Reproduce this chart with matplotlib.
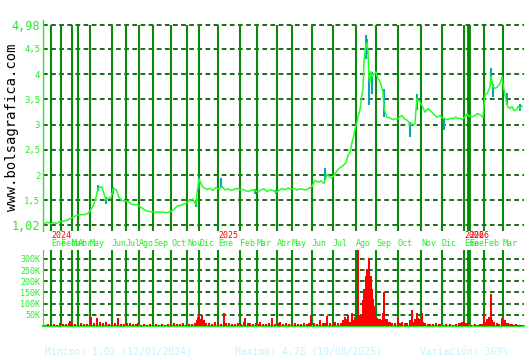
import numpy as np
import matplotlib.pyplot as plt
from matplotlib.transforms import blended_transform_factory

# session counter (one per trading session shown) and closing price
price_day = [45, 48, 51, 54, 57, 60, 63, 66, 70, 73, 77, 81, 85, 88, 90, 93, 96, 98, 100, 102,
             103, 105, 106, 108, 111, 113, 116, 118, 119, 121, 123, 127, 130, 132, 137, 140, 142, 145, 147, 150,
             153, 158, 163, 167, 170, 174, 177, 180, 183, 187, 190, 193, 195, 196, 197, 199, 200, 202, 204, 207,
             210, 213, 216, 219, 222, 225, 228, 231, 234, 237, 240, 243, 246, 249, 252, 255, 258, 261, 264, 267,
             270, 273, 276, 279, 282, 285, 288, 291, 294, 297, 300, 303, 306, 309, 312, 315, 318, 321, 324, 327,
             330, 332, 335, 337, 340, 343, 346, 348, 350, 352, 354, 355, 357, 358, 360, 361, 362, 363, 364, 366,
             367, 368, 369, 370, 371, 372, 373, 375, 376, 377, 378, 380, 381, 383, 384, 386, 387, 389, 391, 393,
             395, 397, 400, 402, 404, 407, 409, 410, 412, 414, 415, 416, 417, 419, 420, 422, 425, 427, 428, 430,
             432, 435, 437, 440, 442, 445, 448, 450, 453, 456, 458, 460, 462, 464, 466, 467, 469, 472, 475, 477,
             480, 483, 485, 487, 488, 490, 491, 493, 495, 497, 500, 502, 503, 505, 507, 508, 510, 512, 514, 515,
             517, 518, 520, 522]
price_close = [1.05, 1.07, 1.04, 1.06, 1.05, 1.08, 1.09, 1.10, 1.14, 1.17, 1.21, 1.22, 1.22, 1.25, 1.29, 1.39, 1.56, 1.74, 1.76, 1.77,
               1.69, 1.58, 1.52, 1.54, 1.56, 1.72, 1.72, 1.62, 1.56, 1.52, 1.49, 1.49, 1.45, 1.42, 1.42, 1.38, 1.35, 1.31, 1.29, 1.28,
               1.27, 1.27, 1.27, 1.26, 1.28, 1.32, 1.39, 1.40, 1.42, 1.46, 1.50, 1.53, 1.44, 1.42, 1.65, 1.92, 1.88, 1.79, 1.75, 1.72,
               1.74, 1.70, 1.76, 1.72, 1.78, 1.71, 1.73, 1.70, 1.72, 1.74, 1.71, 1.72, 1.69, 1.68, 1.71, 1.70, 1.67, 1.71, 1.73, 1.68,
               1.71, 1.70, 1.66, 1.70, 1.74, 1.71, 1.75, 1.72, 1.74, 1.71, 1.73, 1.72, 1.71, 1.74, 1.78, 1.90, 1.86, 1.89, 1.84, 2.02,
               1.96, 1.95, 2.03, 2.09, 2.15, 2.19, 2.25, 2.39, 2.45, 2.65, 2.80, 2.92, 3.05, 3.15, 3.30, 3.45, 3.60, 3.72, 4.25, 4.59,
               4.62, 4.45, 3.92, 3.85, 4.05, 3.95, 3.99, 4.02, 4.05, 3.96, 3.92, 3.85, 3.79, 3.65, 3.32, 3.20, 3.15, 3.14, 3.12, 3.10,
               3.12, 3.11, 3.16, 3.18, 3.12, 3.09, 3.05, 2.99, 3.02, 3.00, 3.02, 3.30, 3.52, 3.48, 3.45, 3.38, 3.25, 3.30, 3.32, 3.28,
               3.25, 3.18, 3.15, 3.18, 3.14, 3.12, 3.10, 3.13, 3.12, 3.15, 3.12, 3.13, 3.10, 3.14, 3.18, 3.22, 3.17, 3.16, 3.18, 3.22,
               3.20, 3.15, 3.59, 3.62, 3.65, 3.75, 3.95, 3.75, 3.72, 3.74, 3.82, 3.95, 3.80, 3.59, 3.40, 3.35, 3.32, 3.36, 3.28, 3.29,
               3.30, 3.36, 3.32, 3.37]

# intraday range on the sessions where it sticks out
range_day = [98, 106, 113, 196, 199, 221, 255, 276, 325, 366, 367, 369, 372, 384, 410, 417, 444, 491, 493, 507, 520]
range_low = [1.68, 1.44, 1.62, 1.38, 1.72, 1.74, 1.63, 1.62, 1.90, 4.30, 4.40, 3.40, 3.60, 3.15, 2.76, 3.30, 2.90, 3.80, 3.55, 3.40, 3.28]
range_high = [1.80, 1.56, 1.76, 1.50, 1.97, 1.95, 1.72, 1.70, 2.14, 4.78, 4.70, 3.95, 4.05, 3.70, 3.05, 3.60, 3.14, 4.12, 3.80, 3.62, 3.42]

vol_day = [45, 48, 51, 54, 57, 60, 63, 66, 69, 70, 72, 75, 78, 81, 84, 87, 90, 91, 94, 97,
           100, 103, 106, 109, 112, 115, 118, 121, 124, 127, 130, 133, 136, 138, 141, 144, 147, 150, 153, 156,
           159, 162, 165, 168, 171, 174, 177, 180, 183, 186, 189, 192, 195, 197, 198, 199, 201, 202, 204, 206,
           209, 212, 215, 218, 221, 224, 226, 229, 232, 235, 238, 241, 244, 245, 248, 250, 253, 256, 259, 260,
           263, 266, 269, 272, 275, 278, 280, 283, 286, 289, 292, 295, 298, 301, 304, 307, 309, 311, 314, 317,
           320, 323, 325, 327, 330, 333, 335, 338, 341, 343, 345, 347, 348, 350, 352, 354, 355, 357, 358, 359,
           360, 361, 362, 363, 364, 365, 366, 367, 368, 369, 370, 371, 372, 373, 374, 375, 376, 377, 378, 380,
           381, 383, 384, 385, 387, 389, 390, 392, 395, 398, 400, 402, 405, 407, 410, 412, 414, 415, 417, 418,
           420, 422, 423, 425, 428, 430, 433, 436, 439, 440, 443, 446, 450, 453, 456, 459, 460, 462, 464, 466,
           468, 471, 475, 478, 480, 482, 484, 486, 487, 489, 491, 492, 494, 497, 499, 502, 504, 505, 507, 508,
           510, 512, 514, 516, 518, 520, 522]
vol_k = [4, 8, 5, 10, 6, 12, 8, 10, 14, 24, 8, 10, 6, 12, 8, 10, 20, 41, 15, 36,
         20, 12, 18, 10, 14, 12, 36, 10, 8, 12, 15, 10, 8, 12, 6, 8, 5, 8, 6, 8,
         5, 8, 6, 10, 8, 15, 10, 8, 12, 6, 10, 8, 12, 25, 40, 55, 30, 50, 25, 15,
         12, 10, 20, 12, 10, 60, 15, 12, 8, 10, 12, 10, 20, 36, 12, 15, 10, 12, 8, 20,
         10, 8, 12, 36, 10, 12, 20, 10, 12, 8, 10, 15, 10, 8, 12, 10, 15, 50, 12, 10,
         25, 12, 15, 45, 12, 10, 20, 15, 12, 25, 40, 30, 50, 20, 60, 25, 40, 30, 345, 40,
         50, 45, 50, 118, 164, 140, 224, 255, 200, 303, 180, 224, 164, 120, 88, 60, 40, 35, 30, 30,
         25, 59, 153, 30, 30, 20, 20, 12, 15, 36, 15, 20, 15, 12, 25, 73, 20, 30, 60, 36,
         30, 60, 20, 15, 10, 10, 8, 12, 8, 10, 6, 8, 8, 6, 10, 12, 15, 18, 20, 15,
         12, 6, 8, 5, 10, 8, 60, 20, 30, 40, 145, 25, 20, 15, 10, 36, 20, 25, 15, 15,
         8, 10, 6, 8, 5, 6, 4]

month_day = [51, 61, 72, 78, 90, 112, 126, 139, 153, 171, 187, 199,
             218, 240, 257, 277, 292, 312, 333, 356, 376, 398, 421, 442,
             464, 469, 484, 503]
month_names = ['Ene', 'Feb', 'Mar', 'Abr', 'May', 'Jun', 'Jul', 'Ago', 'Sep', 'Oct', 'Nov', 'Dic',
               'Ene', 'Feb', 'Mar', 'Abr', 'May', 'Jun', 'Jul', 'Ago', 'Sep', 'Oct', 'Nov', 'Dic',
               'Ene', 'Ene', 'Feb', 'Mar']
month_width = [1.5] * 25 + [2.8] + [1.5] * 2
year_day = [51, 218, 464, 469]
year_names = ['2024', '2025', '2026', '2026']

price_ticks = [1.02, 1.5, 2, 2.5, 3, 3.5, 4, 4.5, 4.98]
price_labels = ['1,02', '1,5', '2', '2,5', '3', '3,5', '4', '4,5', '4,98']
vol_ticks = [50, 100, 150, 200, 250, 300]
vol_labels = ['50K', '100K', '150K', '200K', '250K', '300K']

MONO = 'DejaVu Sans Mono'
BRIGHT = '#22ee22'
VLINE = '#0a8a0a'
GRID = '#0b5e0b'
DASH = (0, (2.6, 1.9))

fig = plt.figure(figsize=(5.3, 3.6), dpi=100)
ax = fig.add_axes([43 / 530, 1 - 231 / 360, 481 / 530, 211 / 360])
axv = fig.add_axes([43 / 530, 1 - 326 / 360, 481 / 530, 76 / 360])

xlim = (43, 524)

# price panel
ax.set_xlim(*xlim)
ax.set_ylim(0.896, 5.074)
ax.hlines(price_ticks, xlim[0], xlim[1], colors=GRID, linestyles=DASH, lw=1.3, zorder=1)
ax.vlines(month_day, 0.896, price_ticks[-1], colors=VLINE, lw=month_width, zorder=2)
ax.vlines(range_day, range_low, range_high, colors='#0aa5b5', lw=1.5, zorder=3)
ax.plot(price_day, price_close, color='#22ff22', lw=1.1, zorder=4)
ax.set_xticks([])
ax.set_yticks(price_ticks, price_labels)
ax.tick_params(axis='y', length=0, pad=2, colors=BRIGHT, labelsize=6.5)
for lab in ax.get_yticklabels():
    lab.set_family(MONO)
    if lab.get_text() in ('1,02', '4,98'):
        lab.set_fontsize(8.5)
for s in ['top', 'right', 'bottom']:
    ax.spines[s].set_visible(False)
ax.spines['left'].set_color(BRIGHT)
ax.spines['left'].set_linewidth(1.0)

# volume panel
axv.set_xlim(*xlim)
axv.set_ylim(0, 340)
axv.hlines(vol_ticks, xlim[0], xlim[1], colors=GRID, linestyles=DASH, lw=1.3, zorder=1)
axv.vlines(month_day, 0, 340, colors=VLINE, lw=month_width, zorder=2)
axv.bar(vol_day, vol_k, width=1.6, color='#ff0000', zorder=3)
axv.set_xticks([])
axv.set_yticks(vol_ticks, vol_labels)
axv.tick_params(axis='y', length=0, pad=2, colors=BRIGHT, labelsize=6)
for lab in axv.get_yticklabels():
    lab.set_family(MONO)
for s in ['top', 'right']:
    axv.spines[s].set_visible(False)
axv.spines['left'].set_color(BRIGHT)
axv.spines['bottom'].set_color(BRIGHT)
axv.spines['bottom'].set_linewidth(1.6)

# month and year labels between the panels
tr = blended_transform_factory(ax.transData, fig.transFigure)
for d, name in zip(month_day, month_names):
    ax.text(d, 1 - 244 / 360, name, transform=tr, color=BRIGHT, fontsize=6,
            family=MONO, ha='left', va='center', clip_on=False)
for d, name in zip(year_day, year_names):
    ax.text(d, 1 - 235.5 / 360, name, transform=tr, color='#ff0000', fontsize=6,
            family=MONO, ha='left', va='center', clip_on=False)

fig.text(12 / 530, 1 - 127 / 360, 'www.bolsagrafica.com', rotation=90, color='black',
         fontsize=10, family=MONO, ha='center', va='center')

info_color = '#bff3ff'
fig.text(45 / 530, 1 - 352 / 360, 'Minimo: 1,02 (12/01/2024)', color=info_color,
         fontsize=7, family=MONO, va='center')
fig.text(235 / 530, 1 - 352 / 360, 'Maximo: 4,78 (19/08/2025)', color=info_color,
         fontsize=7, family=MONO, va='center')
fig.text(420 / 530, 1 - 352 / 360, 'Variación: 369%', color=info_color,
         fontsize=7, family=MONO, va='center')

fig.savefig('out.png', dpi=100, facecolor='white')
